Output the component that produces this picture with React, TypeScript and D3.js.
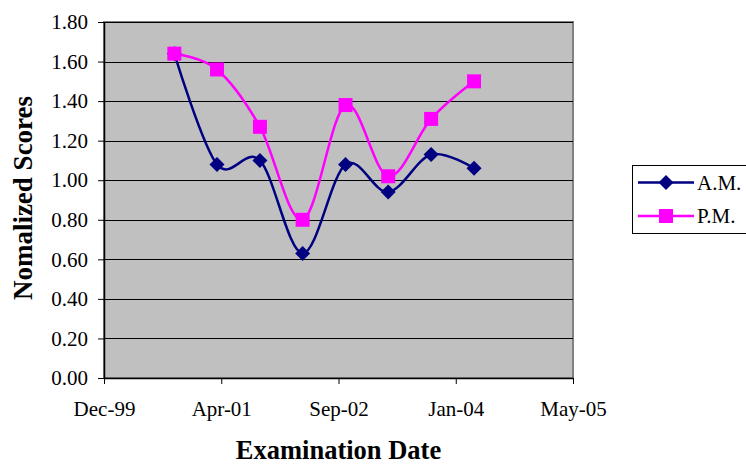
import React, { useEffect, useRef } from "react";
import * as d3 from "d3";

const width = 746;
const height = 464;
const margin = { top: 22, right: 173, bottom: 86, left: 104 };
const navy = "#000080";
const magenta = "#ff00ff";
const plotBg = "#c0c0c0";
const font = "'Liberation Serif', 'Times New Roman', serif";

// one exam every six months
const examDates = [
  "2000-10-01",
  "2001-04-01",
  "2001-10-01",
  "2002-04-01",
  "2002-10-01",
  "2003-04-01",
  "2003-10-01",
  "2004-04-01"
];
const amScores = [1.64, 1.08, 1.1, 0.63, 1.08, 0.94, 1.13, 1.06];
const pmScores = [1.64, 1.56, 1.27, 0.8, 1.38, 1.02, 1.31, 1.5];

const yTicks = [0, 0.2, 0.4, 0.6, 0.8, 1.0, 1.2, 1.4, 1.6, 1.8];
// excel style date axis: starts at Dec-99, a tick every 500 days
const xTickStart = "1999-12-06";
const xTickDays = 500;
const xTickCount = 5;

const seriesNames = ["A.M.", "P.M."];

const diamond = (s: number) => `M0,${-s}L${s},0L0,${s}L${-s},0Z`;
const square = (s: number) => `M${-s},${-s}H${s}V${s}H${-s}Z`;

export default function App() {
  const xAxisRef = useRef<SVGGElement>(null);
  const yAxisRef = useRef<SVGGElement>(null);

  const start = new Date(xTickStart);
  const xTicks = d3.range(xTickCount).map(i => d3.utcDay.offset(start, i * xTickDays));

  const x = d3
    .scaleUtc()
    .domain([xTicks[0], xTicks[xTicks.length - 1]])
    .range([margin.left, width - margin.right]);
  const y = d3
    .scaleLinear()
    .domain([0, 1.8])
    .range([height - margin.bottom, margin.top]);

  const dates = examDates.map(d => new Date(d));
  const line = d3
    .line<number>()
    .x((_, i) => x(dates[i]))
    .y(d => y(d))
    .curve(d3.curveCardinal.tension(0));

  useEffect(() => {
    const yAxis = d3
      .axisLeft(y)
      .tickValues(yTicks)
      .tickFormat(d3.format(".2f"))
      .tickSize(6)
      .tickSizeOuter(0)
      .tickPadding(10);
    const xAxis = d3
      .axisBottom(x)
      .tickValues(xTicks)
      .tickFormat(d => d3.utcFormat("%b-%y")(d as Date))
      .tickSize(6)
      .tickSizeOuter(0)
      .tickPadding(17);

    const gy = d3.select(yAxisRef.current!).call(yAxis);
    const gx = d3.select(xAxisRef.current!).call(xAxis);
    [gy, gx].forEach(g => {
      g.attr("font-family", font).attr("font-size", 21);
      g.select(".domain").attr("stroke", "#000").attr("stroke-width", 1.5);
      g.selectAll(".tick line").attr("stroke", "#000");
      g.selectAll(".tick text").attr("fill", "#000");
    });
  }, []);

  const plotW = width - margin.left - margin.right;
  const plotH = height - margin.top - margin.bottom;

  return (
    <svg
      width={width}
      height={height}
      style={{ position: "absolute", left: 0, top: 0, background: "#fff" }}
    >
      <rect
        x={margin.left}
        y={margin.top}
        width={plotW}
        height={plotH}
        fill={plotBg}
        stroke="#808080"
        strokeWidth={2}
      />
      {yTicks.slice(1).map(t => (
        <line
          key={t}
          x1={margin.left}
          x2={width - margin.right}
          y1={Math.round(y(t)) + 0.5}
          y2={Math.round(y(t)) + 0.5}
          stroke="#000"
          strokeWidth={1}
        />
      ))}

      <g ref={yAxisRef} transform={`translate(${margin.left},0)`} />
      <g ref={xAxisRef} transform={`translate(0,${height - margin.bottom})`} />

      {/* A.M. */}
      <path d={line(amScores) ?? ""} fill="none" stroke={navy} strokeWidth={2.5} />
      {amScores.map((v, i) => (
        <path key={"am" + i} d={diamond(7.5)} transform={`translate(${x(dates[i])},${y(v)})`} fill={navy} />
      ))}

      {/* P.M. */}
      <path d={line(pmScores) ?? ""} fill="none" stroke={magenta} strokeWidth={2.5} />
      {pmScores.map((v, i) => (
        <path key={"pm" + i} d={square(7)} transform={`translate(${x(dates[i])},${y(v)})`} fill={magenta} />
      ))}

      {/* legend */}
      <g>
        <rect x={632.5} y={165.5} width={130} height={68} fill="#fff" stroke="#000" strokeWidth={1} />
        {seriesNames.map((name, i) => {
          const ly = 182.5 + i * 33.5;
          const color = i === 0 ? navy : magenta;
          return (
            <g key={name}>
              <line x1={638} x2={694} y1={ly} y2={ly} stroke={color} strokeWidth={2.5} />
              <path
                d={i === 0 ? diamond(7.5) : square(7)}
                transform={`translate(666,${ly})`}
                fill={color}
              />
              <text x={697} y={ly + 7} fontFamily={font} fontSize={21} fill="#000">
                {name}
              </text>
            </g>
          );
        })}
      </g>

      <text
        x={(margin.left + width - margin.right) / 2}
        y={459}
        textAnchor="middle"
        fontFamily={font}
        fontSize={26.5}
        fontWeight="bold"
      >
        Examination Date
      </text>
      <text
        transform="translate(32,198) rotate(-90)"
        textAnchor="middle"
        fontFamily={font}
        fontSize={27}
        fontWeight="bold"
      >
        Nomalized Scores
      </text>
    </svg>
  );
}
